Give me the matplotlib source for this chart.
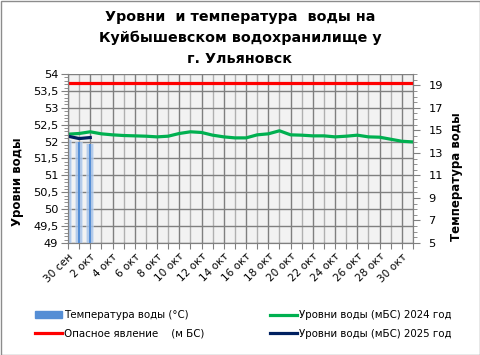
import matplotlib
matplotlib.use('Agg')
import matplotlib.pyplot as plt
from matplotlib.lines import Line2D
from matplotlib.patches import Patch, Rectangle
from matplotlib.ticker import MultipleLocator, FuncFormatter

plt.rcParams['font.family'] = ['DejaVu Sans']

dates = ['30 сен'] + [f'{d} окт' for d in range(1, 32)]
level_2024 = [52.22, 52.24, 52.29, 52.23, 52.20, 52.18, 52.17, 52.16, 52.14, 52.16,
              52.24, 52.29, 52.27, 52.19, 52.14, 52.11, 52.11, 52.20, 52.23, 52.32,
              52.20, 52.19, 52.17, 52.17, 52.14, 52.16, 52.19, 52.14, 52.13, 52.07,
              52.01, 51.99]
level_2025 = [52.16, 52.09, 52.12]
danger = [53.72] * len(dates)
temp = [14.1, 14.0, 13.8]

title = 'Уровни  и температура  воды на\nКуйбышевском водохранилище у\nг. Ульяновск'
W, H = 481, 355
fig = plt.figure(figsize=(W / 100, H / 100), dpi=100)
fig.patches.append(Rectangle((0.5 / W, 0.5 / H), 1 - 1.5 / W, 1 - 1.5 / H, transform=fig.transFigure,
                             fill=False, edgecolor='#8c8c8c', lw=1))

L, R, T, B = 68, 413, 74, 243
ax = fig.add_axes([L / W, 1 - B / H, (R - L) / W, (B - T) / H])
ax.set_facecolor('#f2f2f2')
ax2 = ax.twinx()

x = list(range(len(dates)))
ax.set_xlim(0, len(dates) - 1)
ax.set_ylim(49, 54)
ax2.set_ylim(5, 20)

# gridlines
ax.yaxis.set_major_locator(MultipleLocator(0.5))
ax.yaxis.set_minor_locator(MultipleLocator(0.1))
ax.grid(axis='y', which='major', color='#808080', lw=1)
for i in x:
    ax.axvline(i, color='#7f7f7f' if i % 2 == 0 else '#b0b0b0', lw=1, zorder=0.5)

# lines
ax.plot(x, danger, color='#ff0000', lw=2.3, solid_capstyle='butt', zorder=3)
ax.plot(x, level_2024, color='#00b050', lw=2.3, zorder=3)
ax.plot(x[:len(level_2025)], level_2025, color='#002060', lw=2.3, zorder=4)

# temperature bars (gradient look)
tx = x[:len(temp)]
for w, c, a in [(0.75, '#c6d9f1', 0.6), (0.5, '#9dbbe6', 0.6), (0.22, '#558ed5', 1.0)]:
    ax2.bar(tx, [t - 5 for t in temp], bottom=5, width=w, color=c, alpha=a, lw=0, zorder=2)

fmt = FuncFormatter(lambda v, p: (f'{v:g}').replace('.', ','))
ax.yaxis.set_major_formatter(fmt)
ax.set_xticks(x)
ax.set_xticklabels([d if i % 2 == 0 else '' for i, d in enumerate(dates)],
                   rotation=45, ha='right', rotation_mode='anchor', fontsize=7.6)
ax.tick_params(axis='x', length=4, color='#808080', pad=2)
ax.tick_params(axis='y', which='major', length=5, color='#808080', labelsize=8.2, pad=2)
ax.tick_params(axis='y', which='minor', length=3, color='#808080')

ax2.set_yticks(range(5, 20, 2))
ax2.yaxis.set_minor_locator(MultipleLocator(0.5))
ax2.tick_params(axis='y', which='major', length=5, color='#808080', labelsize=8.2, pad=6)
ax2.tick_params(axis='y', which='minor', length=3, color='#808080')

for a in (ax, ax2):
    for s in a.spines.values():
        s.set_color('#808080')
    a.spines['top'].set_visible(False)

fig.text(240 / W, 1 - 38 / H, title, ha='center', va='center', fontsize=10.3,
         fontweight='bold', linespacing=1.62)
fig.text(18 / W, 1 - 182 / H, 'Уровни воды', rotation=90, ha='center', va='center',
         fontsize=8.5, fontweight='bold')
fig.text(457 / W, 1 - 177 / H, 'Температура воды', rotation=90, ha='center', va='center',
         fontsize=8.5, fontweight='bold')

h1 = [Patch(color='#558ed5'), Line2D([], [], color='#ff0000', lw=2.3)]
l1 = ['Температура воды (°C)', 'Опасное явление    (м БС)']
h2 = [Line2D([], [], color='#00b050', lw=2.3), Line2D([], [], color='#002060', lw=2.3)]
l2 = ['Уровни воды (мБС) 2024 год', 'Уровни воды (мБС) 2025 год']
kw = dict(loc='center left', frameon=False, fontsize=7.4, handlelength=2.6,
          handleheight=0.6, handletextpad=0.2, labelspacing=0.85, borderaxespad=0, borderpad=0)
fig.legend(h1, l1, bbox_to_anchor=(35 / W, 1 - 324.5 / H), **kw)
fig.legend(h2, l2, bbox_to_anchor=(270 / W, 1 - 324.5 / H), **kw)

fig.savefig('out.png', dpi=100)
